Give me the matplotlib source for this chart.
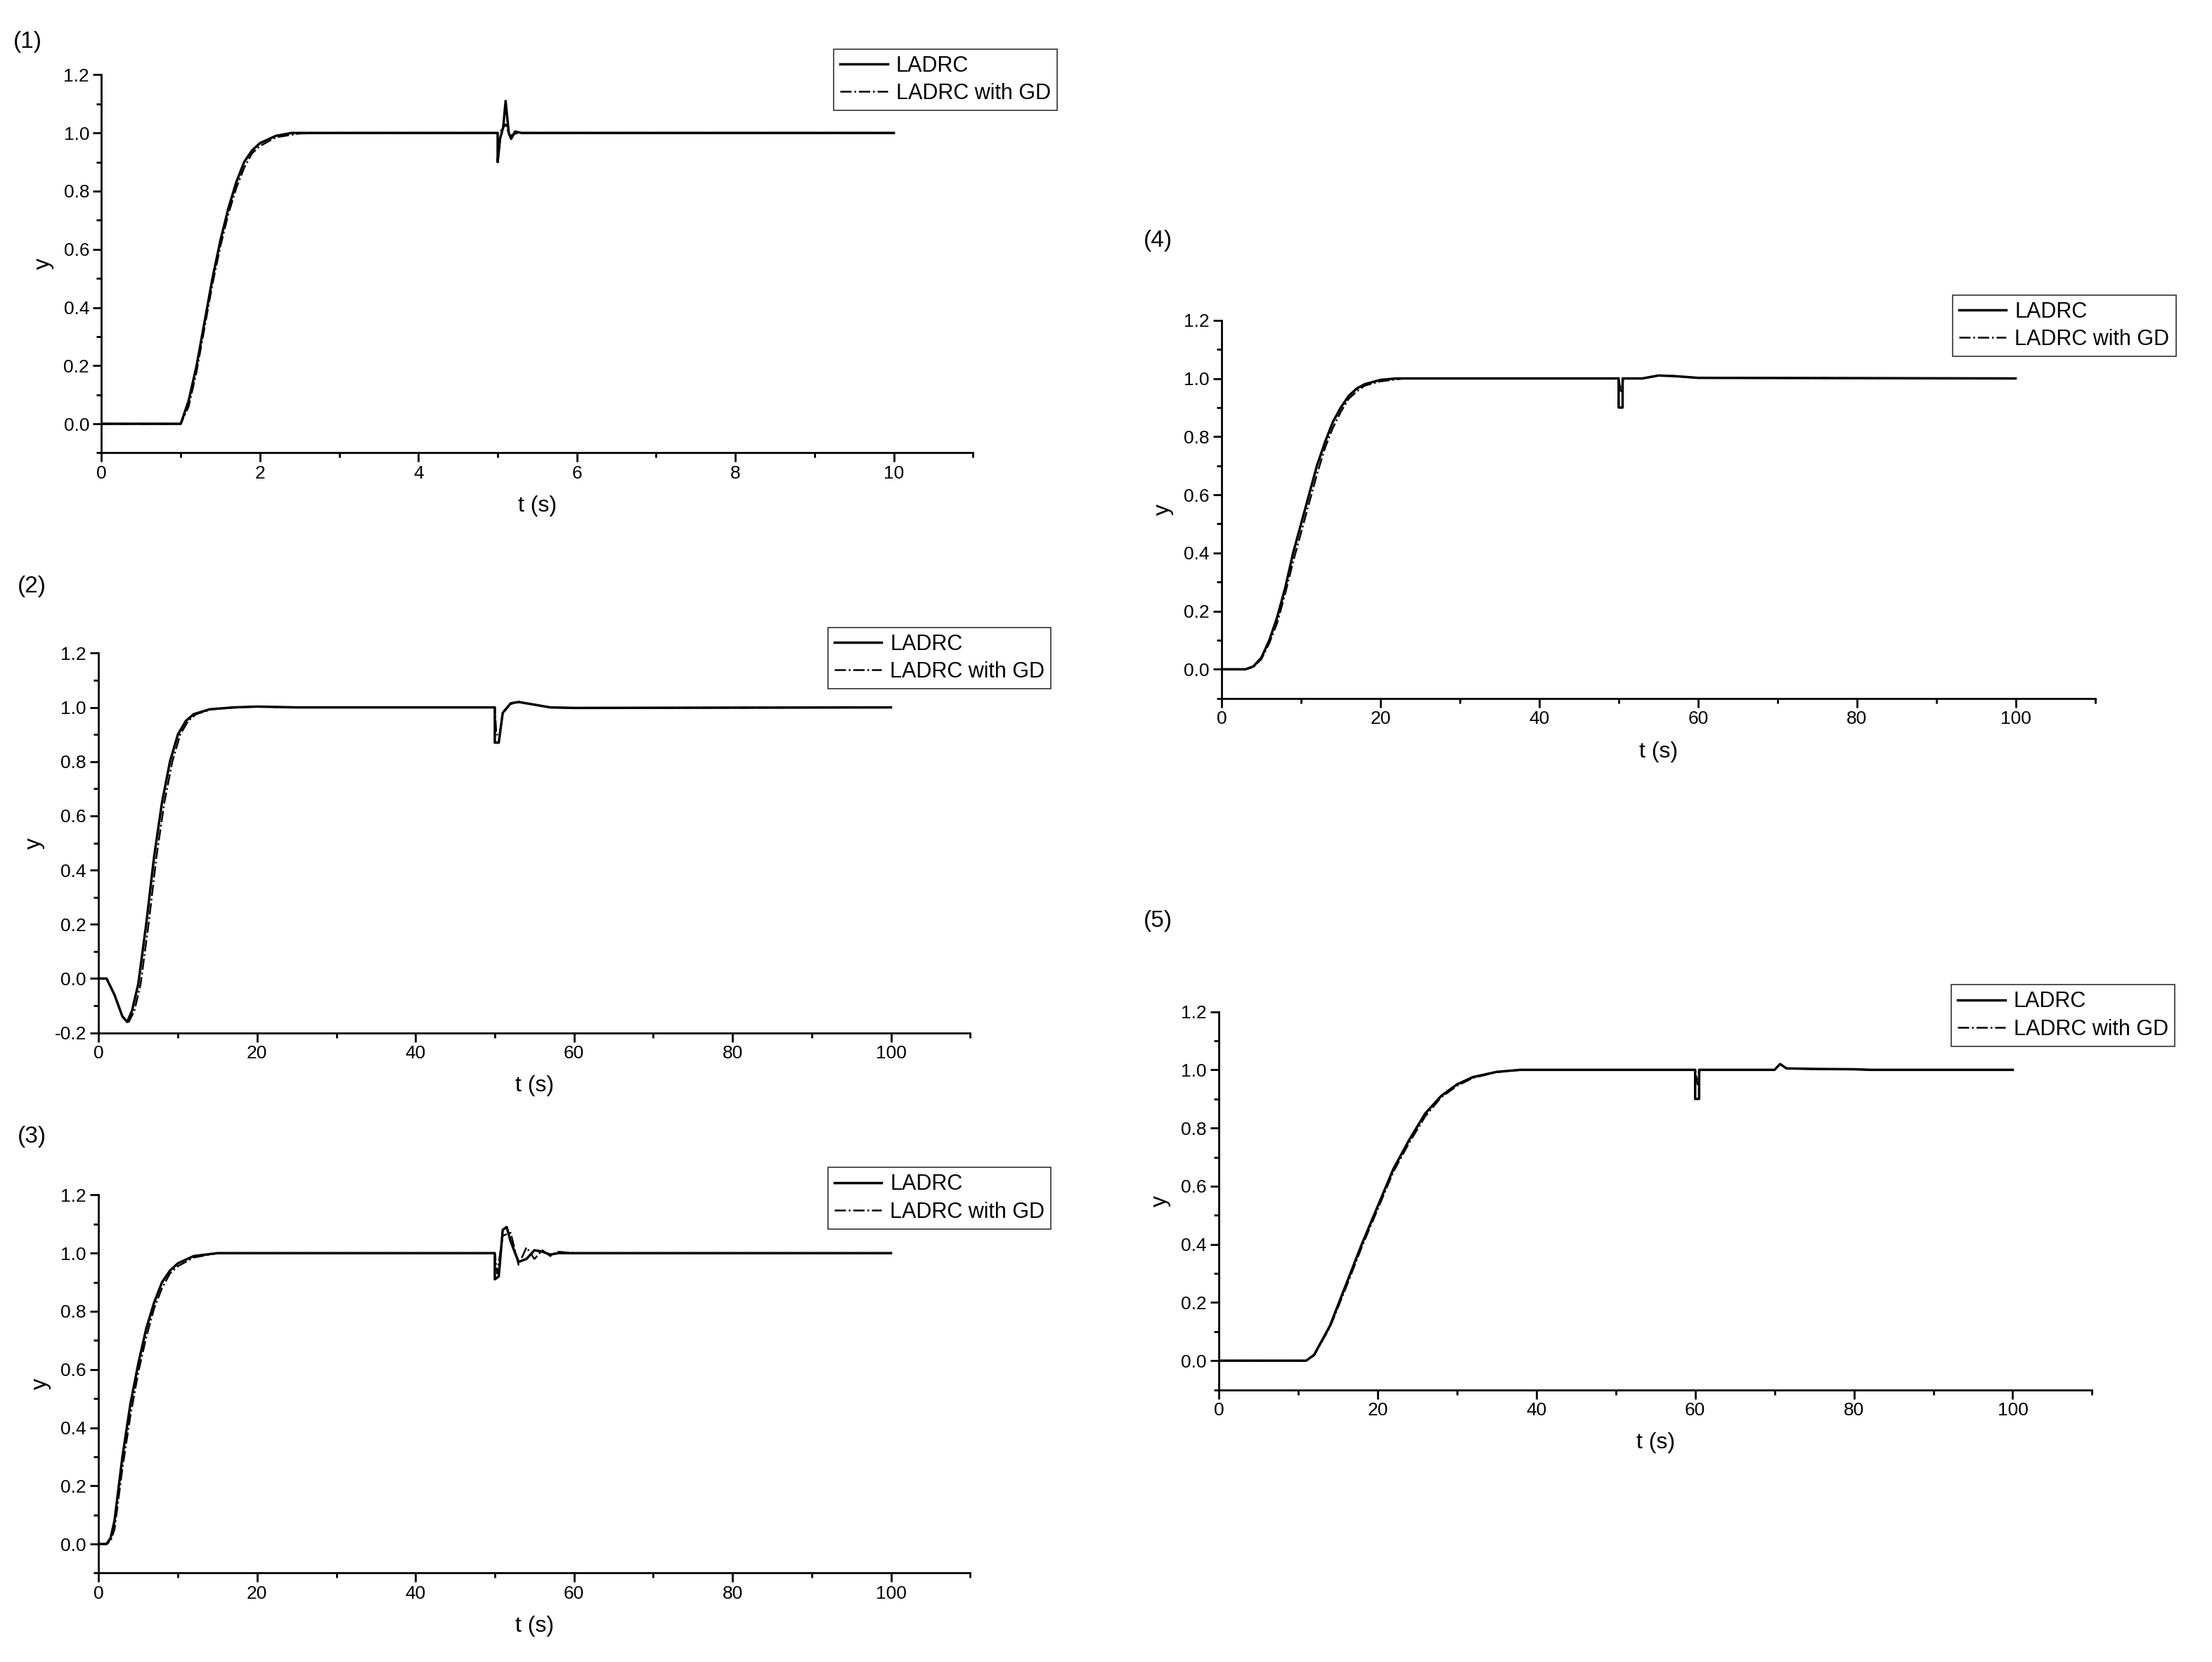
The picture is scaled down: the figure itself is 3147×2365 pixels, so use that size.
import matplotlib
matplotlib.use('Agg')
import matplotlib.pyplot as plt
from matplotlib.ticker import MultipleLocator

plt.rcParams['font.family'] = ['Liberation Sans', 'DejaVu Sans']
plt.rcParams['font.size'] = 19

# ---- data (t, y) ----
t1_ladrc = [0, 1, 1.1, 1.2, 1.3, 1.4, 1.5, 1.6, 1.7, 1.8, 1.9, 2.0, 2.2, 2.4, 3, 5.0, 5.0, 5.03, 5.07, 5.1, 5.14, 5.17, 5.22, 5.3, 10]
y1_ladrc = [0, 0, 0.08, 0.2, 0.35, 0.5, 0.63, 0.74, 0.83, 0.9, 0.94, 0.965, 0.99, 1.0, 1.0, 1.0, 0.9, 0.98, 1.02, 1.11, 1.0, 0.98, 1.005, 1.0, 1.0]
t1_gd = [0, 1, 1.1, 1.2, 1.3, 1.4, 1.5, 1.6, 1.7, 1.8, 1.9, 2.0, 2.2, 2.5, 3, 5, 5.05, 5.1, 5.15, 5.25, 10]
y1_gd = [0, 0, 0.06, 0.18, 0.33, 0.48, 0.61, 0.72, 0.81, 0.88, 0.93, 0.955, 0.985, 0.998, 1, 1, 1.01, 1.03, 0.99, 1.0, 1]

t2_ladrc = [0, 1, 2, 3, 3.6, 4.2, 5, 6, 7, 8, 9, 10, 11, 12, 14, 17, 20, 25, 50, 50, 50.5, 51, 52, 53, 55, 57, 60, 100]
y2_ladrc = [0, 0, -0.06, -0.14, -0.16, -0.12, -0.02, 0.2, 0.45, 0.65, 0.8, 0.9, 0.95, 0.975, 0.993, 1.0, 1.003, 1.0, 1.0, 0.87, 0.87, 0.98, 1.015, 1.02, 1.01, 1.0, 0.998, 1.0]
t2_gd = [0, 1, 2, 3, 3.8, 4.5, 5.3, 6.3, 7.3, 8.3, 9.3, 10.3, 11.3, 12.3, 14.3, 17.5, 20, 25, 50, 50.2, 50.6, 51, 52, 53, 55, 57, 60, 100]
y2_gd = [0, 0, -0.06, -0.14, -0.16, -0.12, -0.02, 0.2, 0.45, 0.65, 0.8, 0.9, 0.95, 0.975, 0.993, 1.0, 1.003, 1.0, 1.0, 0.9, 0.9, 0.98, 1.012, 1.02, 1.01, 1.0, 0.998, 1.0]

t3_ladrc = [0, 1, 1.5, 2, 3, 4, 5, 6, 7, 8, 9, 10, 12, 15, 50, 50, 50.5, 51, 51.5, 52, 53, 54, 55, 56, 57, 58, 100]
y3_ladrc = [0, 0, 0.02, 0.08, 0.3, 0.48, 0.62, 0.74, 0.83, 0.9, 0.94, 0.965, 0.99, 1.0, 1.0, 0.91, 0.92, 1.08, 1.09, 1.04, 0.97, 0.98, 1.01, 1.005, 0.995, 1.0, 1]
t3_gd = [0, 1, 1.5, 2, 3, 4, 5, 6, 7, 8, 9, 10, 12, 15, 50, 50.3, 51, 52, 53, 54, 55, 56, 57, 58, 60, 100]
y3_gd = [0, 0, 0.01, 0.05, 0.26, 0.44, 0.59, 0.71, 0.81, 0.88, 0.93, 0.955, 0.985, 1.0, 1.0, 0.93, 1.06, 1.07, 0.96, 1.02, 0.98, 1.01, 0.99, 1.005, 1.0, 1]

t4_ladrc = [0, 3, 4, 5, 6, 7, 8, 9, 10, 11, 12, 13, 14, 15, 16, 17, 18, 20, 22, 50, 50, 50.5, 50.5, 53, 55, 57, 60, 100]
y4_ladrc = [0, 0, 0.01, 0.04, 0.1, 0.18, 0.28, 0.4, 0.5, 0.6, 0.7, 0.78, 0.85, 0.9, 0.94, 0.965, 0.98, 0.995, 1.0, 1.0, 0.9, 0.9, 1.0, 1.0, 1.01, 1.008, 1.002, 1]
t4_gd = [0, 3, 4, 5, 6, 7, 8, 9, 10, 11, 12, 13, 14, 15, 16, 17, 18, 20, 23, 50, 50.3, 50.6, 53, 55, 57, 60, 100]
y4_gd = [0, 0, 0.008, 0.035, 0.09, 0.16, 0.26, 0.37, 0.47, 0.57, 0.67, 0.76, 0.83, 0.885, 0.93, 0.955, 0.975, 0.99, 1.0, 1.0, 0.95, 1.0, 1.0, 1.01, 1.008, 1.002, 1]

t5_ladrc = [0, 11, 12, 14, 16, 18, 20, 22, 24, 26, 28, 30, 32, 35, 38, 60, 60, 60.5, 60.5, 70, 70.7, 71.5, 75, 80, 82, 100]
y5_ladrc = [0, 0, 0.02, 0.12, 0.26, 0.4, 0.53, 0.66, 0.76, 0.85, 0.91, 0.95, 0.975, 0.993, 1.0, 1.0, 0.9, 0.9, 1.0, 1.0, 1.02, 1.005, 1.003, 1.002, 1.0, 1]
t5_gd = [0, 11, 12, 14, 16, 18, 20, 22, 24, 26, 28, 30, 32, 35, 38, 60, 60.3, 60.6, 70, 70.7, 71.5, 75, 80, 82, 100]
y5_gd = [0, 0, 0.018, 0.115, 0.25, 0.39, 0.52, 0.65, 0.75, 0.84, 0.905, 0.945, 0.972, 0.992, 1.0, 1.0, 0.95, 1.0, 1.0, 1.02, 1.005, 1.003, 1.002, 1.0, 1]

panels = [
    # label, rect, xmax, xstep, ymin, data, legend anchor, label pos
    ('(1)', [0.0459, 0.7275, 0.394, 0.2275], 11, 2, -0.1, (t1_ladrc, y1_ladrc, t1_gd, y1_gd), (0.4828, 0.977), (0.006, 0.975)),
    ('(2)', [0.0446, 0.3786, 0.394, 0.2284], 110, 20, -0.2, (t2_ladrc, y2_ladrc, t2_gd, y2_gd), (0.480, 0.629), (0.008, 0.647)),
    ('(3)', [0.0446, 0.0535, 0.394, 0.2275], 110, 20, -0.1, (t3_ladrc, y3_ladrc, t3_gd, y3_gd), (0.480, 0.304), (0.008, 0.316)),
    ('(4)', [0.5523, 0.5798, 0.3948, 0.2275], 110, 20, -0.1, (t4_ladrc, y4_ladrc, t4_gd, y4_gd), (0.9885, 0.829), (0.517, 0.855)),
    ('(5)', [0.551, 0.1638, 0.3948, 0.2275], 110, 20, -0.1, (t5_ladrc, y5_ladrc, t5_gd, y5_gd), (0.988, 0.414), (0.517, 0.446)),
]

fig = plt.figure(figsize=(31.47, 23.65), dpi=100)
for label, rect, xmax, xstep, ymin, d, anchor, lpos in panels:
    ax = fig.add_axes(rect)
    ax.plot(d[0], d[1], color='black', lw=2.5, label='LADRC')
    ax.plot(d[2], d[3], color='black', lw=1.8, ls='-.', label='LADRC with GD')
    ax.set_xlim(0, xmax)
    ax.set_ylim(ymin, 1.2)
    ax.xaxis.set_major_locator(MultipleLocator(xstep))
    ax.xaxis.set_minor_locator(MultipleLocator(xstep / 2))
    ax.yaxis.set_major_locator(MultipleLocator(0.2))
    ax.yaxis.set_minor_locator(MultipleLocator(0.1))
    ax.xaxis.set_major_formatter(plt.FuncFormatter(lambda v, p: '%d' % v))
    ax.yaxis.set_major_formatter(plt.FuncFormatter(lambda v, p: '%.1f' % v))
    ax.spines['top'].set_visible(False)
    ax.spines['right'].set_visible(False)
    ax.spines['left'].set_linewidth(2)
    ax.spines['bottom'].set_linewidth(2)
    ax.tick_params(which='major', direction='out', length=9, width=2)
    ax.tick_params(which='minor', direction='out', length=5, width=2)
    ax.set_xlabel('t (s)', fontsize=23, labelpad=14)
    ax.set_ylabel('y', fontsize=23, labelpad=10)
    leg = ax.legend(loc='upper right', bbox_to_anchor=anchor, bbox_transform=fig.transFigure,
                    fontsize=22, frameon=True, fancybox=False, edgecolor='black',
                    borderpad=0.3, handlelength=2.2, handletextpad=0.4, labelspacing=0.3)
    leg.get_frame().set_linewidth(1.2)
    fig.text(lpos[0], lpos[1], label, fontsize=24, va='center', ha='left')

fig.savefig('out.png', dpi=100)
